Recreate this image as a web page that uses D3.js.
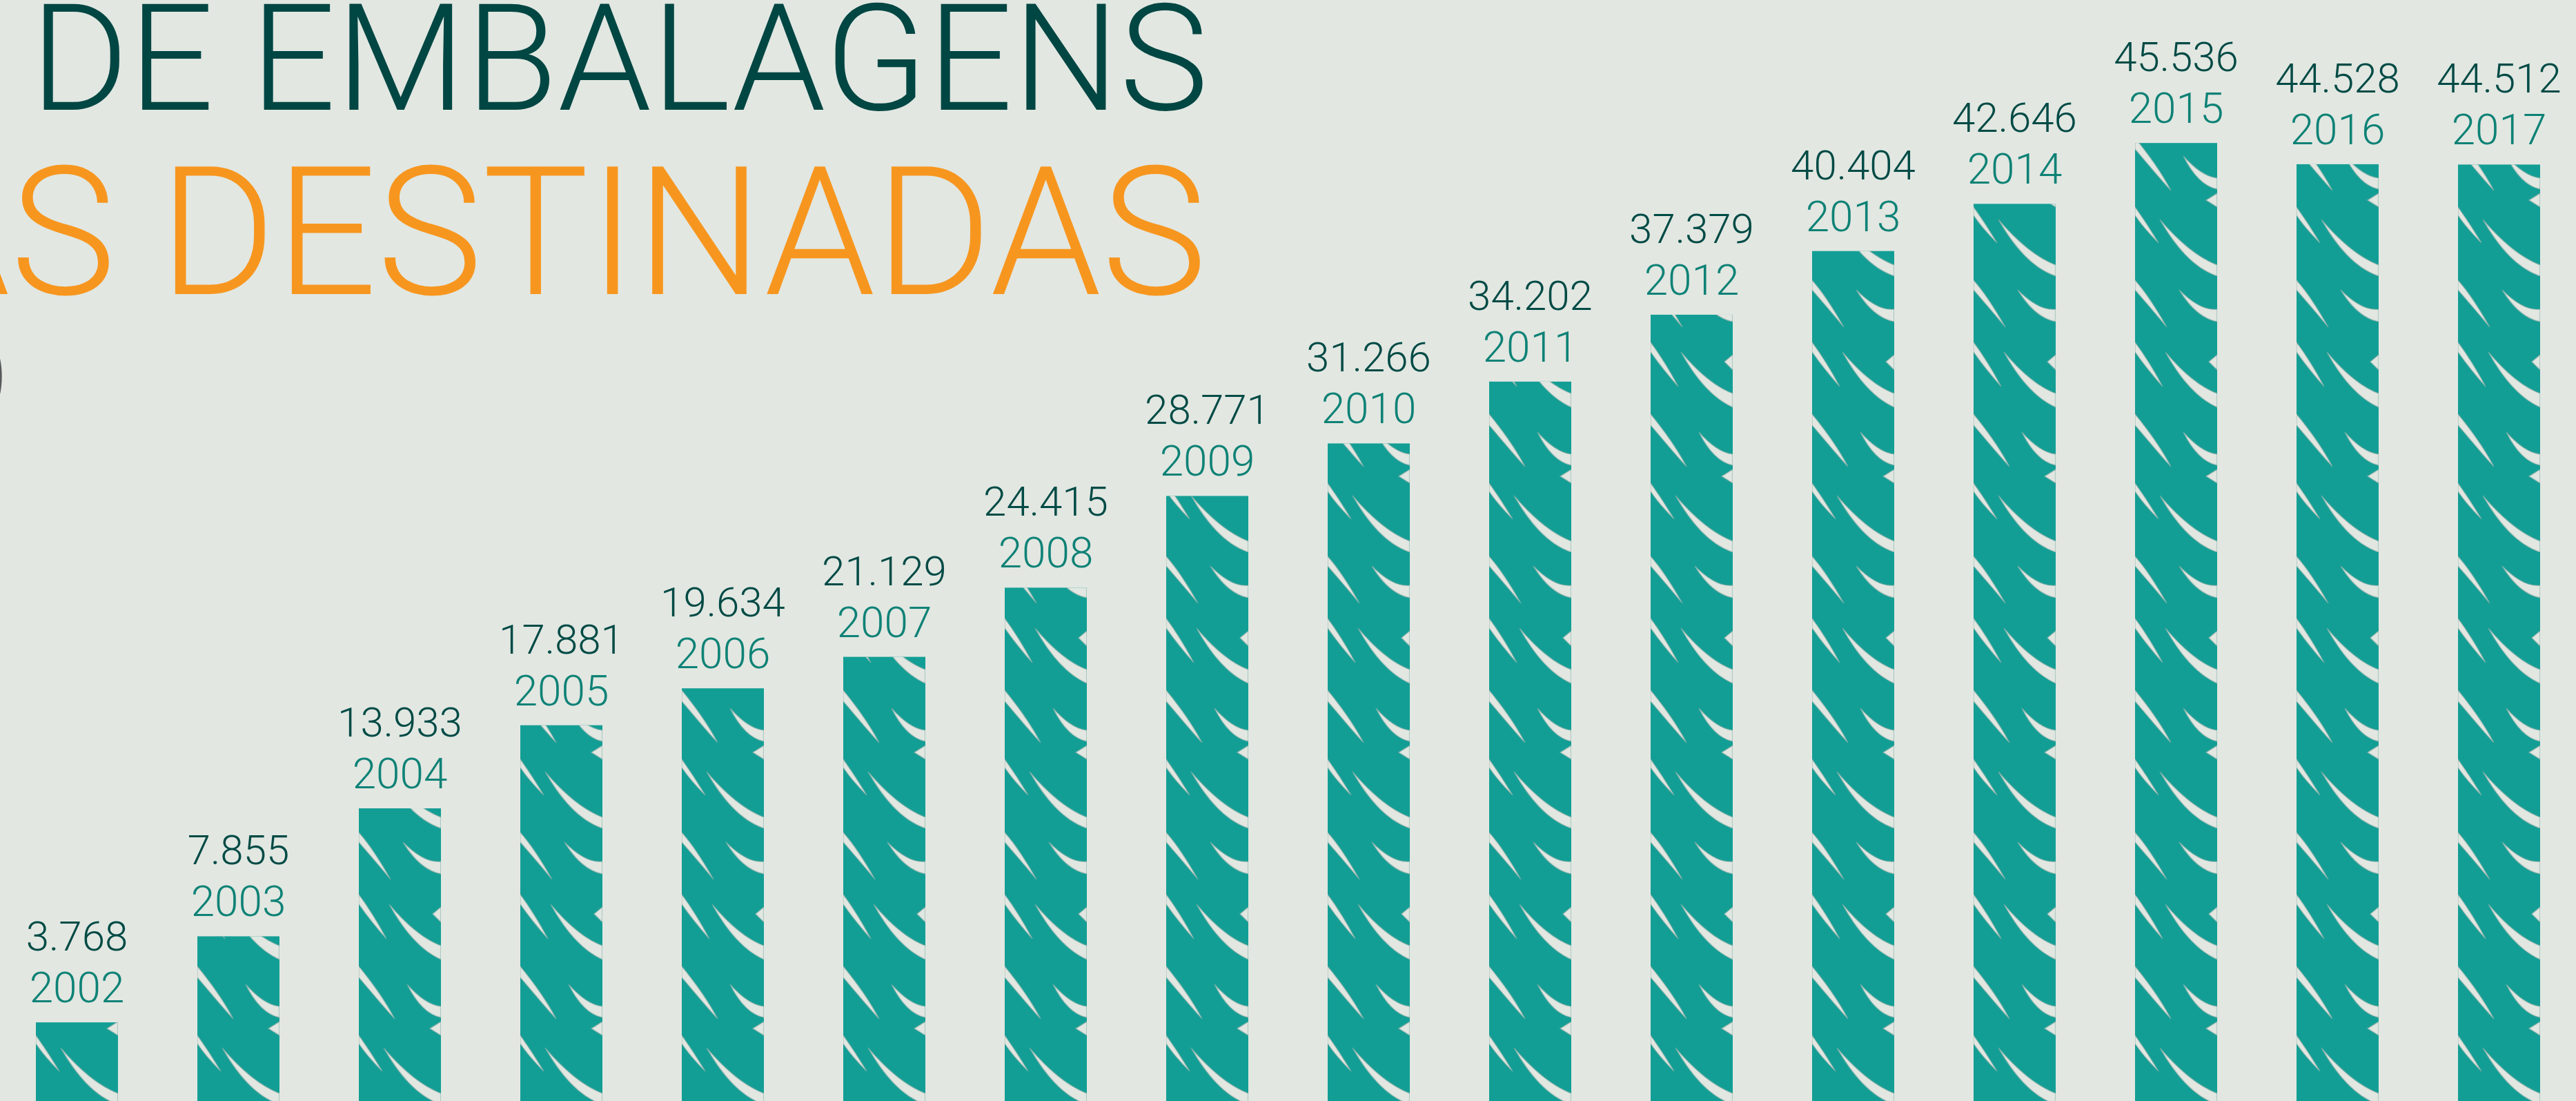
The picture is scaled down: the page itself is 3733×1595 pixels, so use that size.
<!DOCTYPE html>
<html>
<head>
<meta charset="utf-8">
<script src="https://cdn.jsdelivr.net/npm/d3@7"></script>
<style>
  body { margin: 0; background: #e2e7e1; }
  svg { display: block; }
  text { font-family: Roboto, "Liberation Sans", sans-serif; font-weight: 300; }
</style>
</head>
<body>
<div id="chart"></div>
<script>
// dados: embalagens destinadas por ano (toneladas)
var years = [2002, 2003, 2004, 2005, 2006, 2007, 2008, 2009, 2010, 2011, 2012, 2013, 2014, 2015, 2016, 2017];
var tons = [3768, 7855, 13933, 17881, 19634, 21129, 24415, 28771, 31266, 34202, 37379, 40404, 42646, 45536, 44528, 44512];
var titleTop = "DE EMBALAGENS";
var titleBottom = "AS DESTINADAS";

var width = 3733, height = 1595;

var svg = d3.select("#chart")
  .append("svg")
    .attr("width", width)
    .attr("height", height);

svg.append("rect")
    .attr("width", width)
    .attr("height", height)
    .attr("fill", "#e2e7e1");

// escalas
var x = d3.scaleBand()
    .domain(years)
    .range([-5.5, 3738.5])
    .paddingInner(0.4915)
    .paddingOuter(0.2457);

var y = d3.scaleLinear()
    .domain([0, 50000])
    .range([1596, 71]);

var ptBR = d3.formatLocale({decimal: ",", thousands: ".", grouping: [3], currency: ["R$", ""]});
var fmt = ptBR.format(",d");

// textura "corda" das barras (fendas claras entre os fios)
var bw = x.bandwidth();
var R = bw;
var defs = svg.append("defs");
var pat = defs.append("pattern")
    .attr("id", "rope")
    .attr("patternUnits", "userSpaceOnUse")
    .attr("x", x(years[0]))
    .attr("y", 0)
    .attr("width", x.step())
    .attr("height", 400);

var slivers = [
  // fendas que saem da borda esquerda
  "M0,6 C16,24 30,46 46,74 C28,52 12,34 0,20 Z",
  "M0,96 C12,112 26,134 40,160 C22,140 10,124 0,110 Z",
  "M0,200 C18,222 36,246 52,276 C30,252 14,232 0,216 Z",
  "M0,300 C10,314 22,332 34,352 C20,338 8,324 0,312 Z",
  // fendas que chegam na borda direita
  "M64,20 C82,38 100,50 " + R + ",48 L" + R + ",66 C98,62 80,46 64,20 Z",
  "M44,110 C66,136 92,160 " + R + ",170 L" + R + ",190 C88,176 64,146 44,110 Z",
  "M70,226 C86,244 102,256 " + R + ",258 L" + R + ",274 C100,270 84,254 70,226 Z",
  "M36,318 C60,346 88,372 " + R + ",384 L" + R + ",400 C84,388 58,356 36,318 Z",
  // pequenos entalhes na direita
  "M" + (R - 12) + ",124 L" + R + ",114 L" + R + ",136 Z",
  "M" + (R - 16) + ",290 L" + R + ",280 L" + R + ",300 Z"
];
pat.selectAll("path")
  .data(slivers)
  .enter()
  .append("path")
    .attr("d", function(d) { return d; })
    .attr("fill", "#e2e7e1")
    .attr("stroke", "#8ea8a2")
    .attr("stroke-width", 1.5)
    .attr("stroke-opacity", 0.5);

// barras
var bars = svg.append("g");
bars.selectAll("rect.base")
  .data(years)
  .enter()
  .append("rect")
    .attr("class", "base")
    .attr("x", function(d) { return x(d); })
    .attr("y", function(d, i) { return y(tons[i]); })
    .attr("width", bw)
    .attr("height", function(d, i) { return y(0) - y(tons[i]); })
    .attr("fill", "#139e95");

bars.selectAll("rect.tex")
  .data(years)
  .enter()
  .append("rect")
    .attr("class", "tex")
    .attr("x", function(d) { return x(d); })
    .attr("y", function(d, i) { return y(tons[i]); })
    .attr("width", bw)
    .attr("height", function(d, i) { return y(0) - y(tons[i]); })
    .attr("fill", "url(#rope)");

// rótulos
var labels = svg.append("g").attr("text-anchor", "middle");
labels.selectAll("text.val")
  .data(years)
  .enter()
  .append("text")
    .attr("class", "val")
    .attr("x", function(d) { return x(d) + bw / 2; })
    .attr("y", function(d, i) { return y(tons[i]) - 104; })
    .attr("font-size", "60px")
    .attr("fill", "#004a45")
    .text(function(d, i) { return fmt(tons[i]); });

labels.selectAll("text.yr")
  .data(years)
  .enter()
  .append("text")
    .attr("class", "yr")
    .attr("x", function(d) { return x(d) + bw / 2; })
    .attr("y", function(d, i) { return y(tons[i]) - 29; })
    .attr("font-size", "62px")
    .attr("fill", "#0e8276")
    .text(function(d) { return d; });

// título
svg.append("text")
    .attr("x", 44)
    .attr("y", 159)
    .attr("font-size", "215px")
    .attr("fill", "#004643")
    .attr("textLength", 1707)
    .attr("lengthAdjust", "spacingAndGlyphs")
    .text(titleTop);

// segunda linha: o "A" fica cortado na borda esquerda
var probe = svg.append("text").attr("font-size", "260px").text(titleBottom.slice(1));
var partW = probe.node().getComputedTextLength();
probe.text(titleBottom);
var fullW = probe.node().getComputedTextLength();
probe.remove();
var k = (1749 - 15) / partW;
svg.append("text")
    .attr("x", 1749 - fullW * k)
    .attr("y", 426)
    .attr("font-size", "260px")
    .attr("fill", "#f7961f")
    .attr("textLength", fullW * k)
    .attr("lengthAdjust", "spacingAndGlyphs")
    .text(titleBottom);

svg.append("text")
    .attr("x", 14)
    .attr("y", 588)
    .attr("text-anchor", "end")
    .attr("font-size", "150px")
    .attr("fill", "#58595b")
    .text(")");
</script>
</body>
</html>
